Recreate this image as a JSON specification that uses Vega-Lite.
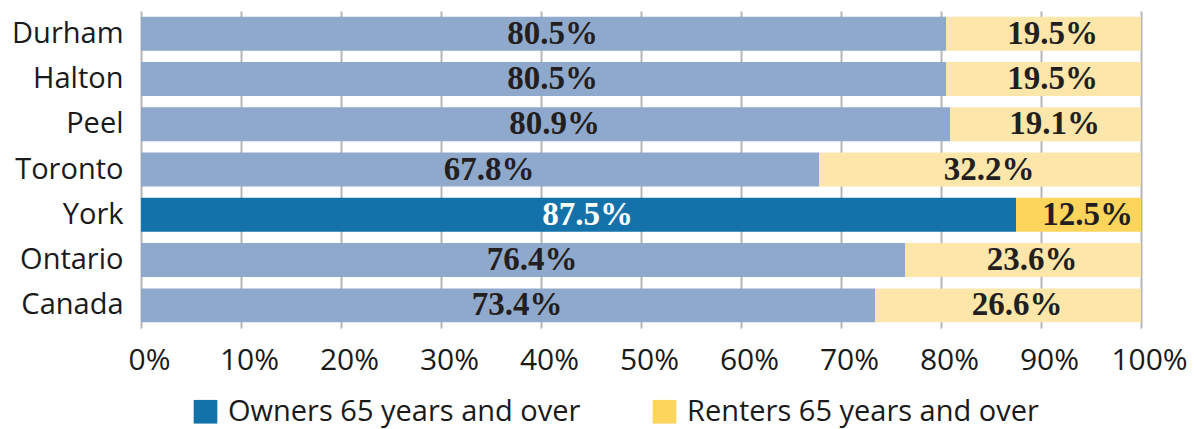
{
  "$schema": "https://vega.github.io/schema/vega-lite/v6.json",
  "width": 1000,
  "height": 317,
  "autosize": {"type": "none"},
  "padding": {"left": 141, "top": 11, "right": 53, "bottom": 101},
  "background": "white",
  "config": {"view": {"stroke": null}, "font": "Open Sans"},
  "data": {
    "values": [
      {"region": "Durham", "tenure": "Owners 65 years and over", "share": 80.5},
      {"region": "Durham", "tenure": "Renters 65 years and over", "share": 19.5},
      {"region": "Halton", "tenure": "Owners 65 years and over", "share": 80.5},
      {"region": "Halton", "tenure": "Renters 65 years and over", "share": 19.5},
      {"region": "Peel", "tenure": "Owners 65 years and over", "share": 80.9},
      {"region": "Peel", "tenure": "Renters 65 years and over", "share": 19.1},
      {"region": "Toronto", "tenure": "Owners 65 years and over", "share": 67.8},
      {"region": "Toronto", "tenure": "Renters 65 years and over", "share": 32.2},
      {"region": "York", "tenure": "Owners 65 years and over", "share": 87.5},
      {"region": "York", "tenure": "Renters 65 years and over", "share": 12.5},
      {"region": "Ontario", "tenure": "Owners 65 years and over", "share": 76.4},
      {"region": "Ontario", "tenure": "Renters 65 years and over", "share": 23.6},
      {"region": "Canada", "tenure": "Owners 65 years and over", "share": 73.4},
      {"region": "Canada", "tenure": "Renters 65 years and over", "share": 26.6}
    ]
  },
  "encoding": {
    "y": {
      "field": "region",
      "type": "nominal",
      "scale": {
        "domain": ["Durham", "Halton", "Peel", "Toronto", "York", "Ontario", "Canada"],
        "paddingInner": 0.25,
        "paddingOuter": 0.125
      },
      "axis": {
        "title": null,
        "domain": false,
        "ticks": false,
        "labelFont": "Open Sans",
        "labelFontSize": 29,
        "labelColor": "#1a1a1a",
        "labelPadding": 18
      }
    },
    "x": {
      "field": "share",
      "type": "quantitative",
      "stack": "zero",
      "scale": {"domain": [0, 100], "nice": false},
      "axis": {
        "title": null,
        "values": [0, 10, 20, 30, 40, 50, 60, 70, 80, 90, 100],
        "labelExpr": "datum.value + '%'",
        "domain": false,
        "ticks": false,
        "grid": true,
        "gridColor": "#B5B5BA",
        "gridWidth": 2,
        "labelFont": "Open Sans",
        "labelFontSize": 30,
        "labelColor": "#1a1a1a",
        "labelPadding": 17,
        "labelOffset": 8,
        "labelFlush": false,
        "labelOverlap": false
      }
    }
  },
  "layer": [
    {
      "transform": [{"filter": "datum.region !== 'York'"}],
      "mark": {"type": "bar"},
      "encoding": {
        "color": {
          "field": "tenure",
          "type": "nominal",
          "scale": {
            "domain": ["Owners 65 years and over", "Renters 65 years and over"],
            "range": ["#8FA9CC", "#FDE6AA"]
          },
          "legend": null
        }
      }
    },
    {
      "transform": [{"filter": "datum.region === 'York'"}],
      "mark": {"type": "bar"},
      "encoding": {
        "color": {
          "field": "tenure",
          "type": "nominal",
          "scale": {
            "domain": ["Owners 65 years and over", "Renters 65 years and over"],
            "range": ["#1472AA", "#FDD55C"]
          },
          "legend": {
            "title": null,
            "orient": "none",
            "direction": "horizontal",
            "legendX": 50,
            "legendY": 386,
            "padding": 0,
            "symbolType": "square",
            "symbolSize": 560,
            "symbolStrokeWidth": 0,
            "symbolOpacity": 1,
            "labelFont": "Open Sans",
            "labelFontSize": 29,
            "labelColor": "#1a1a1a",
            "labelOffset": 8,
            "labelLimit": 600,
            "columnPadding": 69
          }
        }
      }
    },
    {
      "mark": {
        "type": "text",
        "font": "Liberation Serif",
        "fontWeight": "bold",
        "fontSize": 33,
        "dx": 9,
        "baseline": "middle",
        "text": {"expr": "format(datum.share, '.1f') + '%'"}
      },
      "encoding": {
        "x": {"field": "share", "type": "quantitative", "stack": "zero", "bandPosition": 0.5},
        "detail": {"field": "tenure", "type": "nominal"},
        "order": {"field": "tenure", "type": "nominal"},
        "color": {
          "condition": {"test": "datum.region === 'York' && datum.tenure === 'Owners 65 years and over'", "value": "#FFFFFF"},
          "value": "#231F20"
        }
      }
    }
  ],
  "resolve": {"scale": {"color": "independent"}}
}
